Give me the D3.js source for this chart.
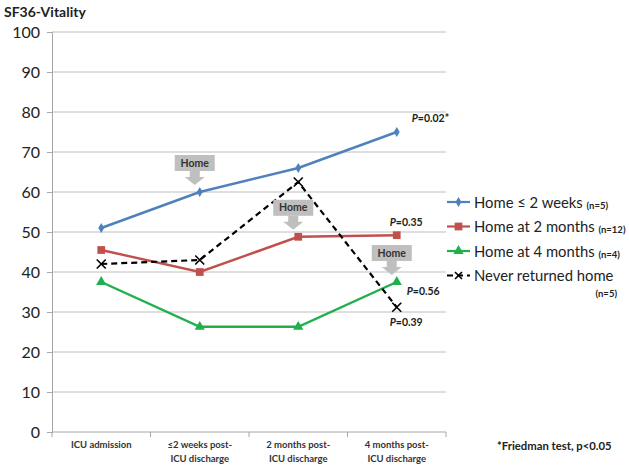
<!DOCTYPE html>
<html>
<head>
<meta charset="utf-8">
<script src="https://cdn.jsdelivr.net/npm/d3@7"></script>
<style>
  body { margin: 0; background: #fff; }
  svg { display: block; font-family: Lato, "Open Sans", sans-serif; }
</style>
</head>
<body>
<div id="chart"></div>
<script>
// --- Data ---
const timepoints = [
  ["ICU admission"],
  ["\u22642 weeks post-", "ICU discharge"],
  ["2 months post-", "ICU discharge"],
  ["4 months post-", "ICU discharge"]
];
const yTicks = [0, 10, 20, 30, 40, 50, 60, 70, 80, 90, 100];

const homeTwoWeeks = [51, 60, 66, 75];
const homeTwoMonths = [45.5, 40, 48.8, 49.2];
const homeFourMonths = [37.5, 26.3, 26.3, 37.5];
const neverHome = [42, 43, 62.5, 31.2];

const seriesNames = ["Home \u2264 2 weeks", "Home at 2 months", "Home at 4 months", "Never returned home"];
const seriesN = ["(n=5)", "(n=12)", "(n=4)", "(n=5)"];
const pLabels = ["P=0.02*", "P=0.35", "P=0.56", "P=0.39"];
// index of the timepoint where each group went home (null = never)
const homeAt = [1, 2, 3, null];

const width = 629, height = 467;
const margin = { top: 32, right: 183, bottom: 35, left: 52 };
const innerW = width - margin.left - margin.right;
const innerH = height - margin.top - margin.bottom;

const series = [
  { name: seriesNames[0], n: seriesN[0], values: homeTwoWeeks, color: "#4F81BD", marker: "diamond", dash: null },
  { name: seriesNames[1], n: seriesN[1], values: homeTwoMonths, color: "#C0504D", marker: "square", dash: null },
  { name: seriesNames[2], n: seriesN[2], values: homeFourMonths, color: "#1FB04C", marker: "triangle", dash: null },
  { name: seriesNames[3], n: seriesN[3], values: neverHome, color: "#000", marker: "cross", dash: "6,4" }
];

const svg = d3.select("#chart").append("svg").attr("width", width).attr("height", height);
const g = svg.append("g").attr("transform", `translate(${margin.left},${margin.top})`);

const x = d3.scaleBand().domain(d3.range(timepoints.length)).range([0, innerW]);
const y = d3.scaleLinear().domain([0, 100]).range([innerH, 0]);
const cx = (i) => x(i) + x.bandwidth() / 2;

// Title
svg.append("text").attr("x", 4).attr("y", 17)
  .attr("font-size", 14).attr("font-weight", "bold").attr("fill", "#222")
  .text("SF36-Vitality");

// Gridlines
g.append("g").selectAll("line").data(yTicks.filter((d) => d > 0)).join("line")
  .attr("x1", 0).attr("x2", innerW)
  .attr("y1", (d) => y(d)).attr("y2", (d) => y(d))
  .attr("stroke", "#BEBEBE").attr("stroke-width", 1);

// Y axis
const yAxis = g.append("g").call(d3.axisLeft(y).tickValues(yTicks).tickSize(5).tickPadding(7));
yAxis.select(".domain").attr("stroke", "#A6A6A6");
yAxis.selectAll(".tick line").attr("stroke", "#A6A6A6");
yAxis.selectAll("text").attr("font-size", 16).attr("fill", "#222")
  .attr("font-family", "Lato, sans-serif");

// X axis
const xAxis = g.append("g").attr("transform", `translate(0,${innerH})`);
xAxis.append("line").attr("x1", 0).attr("x2", innerW).attr("stroke", "#A6A6A6");
xAxis.selectAll(".xt").data(d3.range(timepoints.length + 1)).join("line")
  .attr("x1", (i) => i * x.bandwidth()).attr("x2", (i) => i * x.bandwidth())
  .attr("y1", 0).attr("y2", 5).attr("stroke", "#A6A6A6");
xAxis.selectAll(".xl").data(timepoints).join("text")
  .attr("text-anchor", "middle")
  .attr("font-size", 9.5).attr("font-weight", "bold").attr("fill", "#333")
  .attr("transform", (d, i) => `translate(${cx(i)},15.5)`)
  .selectAll("tspan").data((d) => d).join("tspan")
  .attr("x", 0).attr("dy", (d, i) => (i === 0 ? 0 : 14.5)).text((d) => d);

// Lines
const line = d3.line().x((d, i) => cx(i)).y((d) => y(d));
series.forEach((s) => {
  g.append("path").datum(s.values)
    .attr("fill", "none").attr("stroke", s.color)
    .attr("stroke-width", s.dash ? 2.2 : 2.4)
    .attr("stroke-dasharray", s.dash)
    .attr("d", line);
});

function drawMarker(sel, type, color, size) {
  if (type === "cross") {
    const r = size;
    sel.append("path").attr("d", `M${-r},${-r}L${r},${r}M${-r},${r}L${r},${-r}`)
      .attr("stroke", color).attr("stroke-width", 1.6).attr("fill", "none");
  } else {
    const sym = { diamond: d3.symbolDiamond, square: d3.symbolSquare, triangle: d3.symbolTriangle }[type];
    const area = { diamond: 30, square: 60, triangle: 45 }[type];
    sel.append("path").attr("d", d3.symbol(sym, area)()).attr("fill", color);
  }
}

// Markers
series.forEach((s) => {
  s.values.forEach((v, i) => {
    const m = g.append("g").attr("transform", `translate(${cx(i)},${y(v)})`);
    drawMarker(m, s.marker, s.color, 4.5);
  });
});

// "Home" callouts
series.forEach((s, k) => {
  if (homeAt[k] === null) return;
  const i = homeAt[k];
  const px = cx(i) - 5, py = y(s.values[i]) - 7;
  const cg = g.append("g").attr("transform", `translate(${px},${py})`);
  const bw = 40, bh = 16;
  // arrow
  cg.append("path")
    .attr("d", `M-5,-14L5,-14L5,-8L10,-8L0,0L-10,-8L-5,-8Z`)
    .attr("fill", "#BFBFBF");
  cg.append("rect").attr("x", -bw / 2).attr("y", -14 - bh).attr("width", bw).attr("height", bh)
    .attr("fill", "#BFBFBF");
  cg.append("text").attr("x", 0).attr("y", -14 - bh / 2 + 3.5).attr("text-anchor", "middle")
    .attr("font-size", 10.5).attr("font-weight", "bold").attr("fill", "#333").text("Home");
});

// P-value labels
const last = timepoints.length - 1;
const pOffsets = [[15, -10], [-7, -9], [10, 13], [-7, 19]];
series.forEach((s, k) => {
  const t = g.append("text")
    .attr("x", cx(last) + pOffsets[k][0]).attr("y", y(s.values[last]) + pOffsets[k][1])
    .attr("font-size", 10.5).attr("font-weight", "bold").attr("fill", "#222");
  t.append("tspan").attr("font-style", "italic").text(pLabels[k].slice(0, 1));
  t.append("tspan").text(pLabels[k].slice(1));
});

// Legend
const legend = svg.append("g").attr("transform", `translate(447,202)`);
series.forEach((s, k) => {
  const lg = legend.append("g").attr("transform", `translate(0,${k * 24.5})`);
  lg.append("line").attr("x1", 0).attr("x2", 23).attr("stroke", s.color)
    .attr("stroke-width", 2.2).attr("stroke-dasharray", s.dash);
  const m = lg.append("g").attr("transform", "translate(11.5,0)");
  drawMarker(m, s.marker, s.color, 3.5);
  const t = lg.append("text").attr("x", 27).attr("y", 5.5)
    .attr("font-size", 14.8).attr("fill", "#222");
  t.append("tspan").text(s.name + " ");
  if (k < 3) {
    t.append("tspan").attr("font-size", 9.5).attr("font-weight", "bold").attr("dy", 1).text(s.n);
  } else {
    lg.append("text").attr("x", 170).attr("y", 21).attr("text-anchor", "end")
      .attr("font-size", 9.5).attr("font-weight", "bold").attr("fill", "#222").text(s.n);
  }
});

// Footnote
svg.append("text").attr("x", 497).attr("y", 450)
  .attr("font-size", 11.3).attr("font-weight", "bold").attr("fill", "#222")
  .text("*Friedman test, p<0.05");
</script>
</body>
</html>
